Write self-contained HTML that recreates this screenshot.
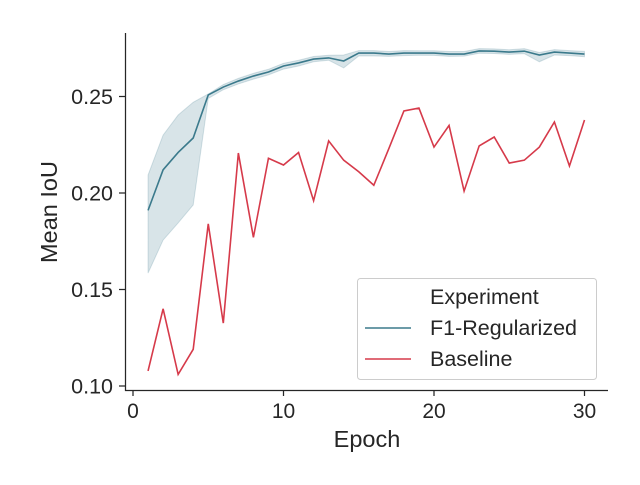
<!DOCTYPE html>
<html><head><meta charset="utf-8"><style>
body{margin:0;background:#fff}
svg text{font-family:"Liberation Sans","DejaVu Sans",sans-serif;fill:#262626}
</style></head><body>
<svg id="chart" width="640" height="480" xmlns="http://www.w3.org/2000/svg"></svg>
<script>
const epochs=[1,2,3,4,5,6,7,8,9,10,11,12,13,14,15,16,17,18,19,20,21,22,23,24,25,26,27,28,29,30];
const f1Mean=[0.191,0.212,0.221,0.2285,0.2508,0.2549,0.258,0.2606,0.2627,0.2658,0.2674,0.2694,0.270,0.2684,0.2725,0.2725,0.272,0.2725,0.2725,0.2725,0.272,0.272,0.2736,0.2735,0.273,0.2735,0.2715,0.273,0.2725,0.272];
const f1Lower=[0.1585,0.1756,0.1845,0.1938,0.249,0.2535,0.2565,0.259,0.2612,0.2642,0.2658,0.268,0.2688,0.2648,0.271,0.271,0.2708,0.2712,0.2714,0.2713,0.2708,0.2709,0.2724,0.2723,0.2718,0.2722,0.268,0.2715,0.2712,0.2706];
const f1Upper=[0.2093,0.230,0.2404,0.247,0.2513,0.2562,0.2594,0.262,0.2641,0.2672,0.2688,0.2707,0.2714,0.2715,0.2738,0.2738,0.2733,0.2738,0.2737,0.2737,0.2733,0.2733,0.2748,0.2747,0.2742,0.2748,0.2728,0.2743,0.2738,0.2734];
const baseline=[0.1078,0.140,0.106,0.119,0.184,0.1326,0.2207,0.177,0.218,0.2145,0.221,0.196,0.227,0.217,0.211,0.204,0.223,0.2425,0.244,0.2238,0.235,0.201,0.2244,0.229,0.2155,0.217,0.2238,0.2368,0.214,0.2378];
const xTicks=[0,10,20,30];
const yTicks=[0.10,0.15,0.20,0.25];
const yTickLabels=["0.10","0.15","0.20","0.25"];

const svg=document.getElementById('chart');
const NS='http://www.w3.org/2000/svg';
const X=v=>133+(v-0)*15.05;
const Y=v=>386-(v-0.10)*1930;
function mk(t,a,p){const e=document.createElementNS(NS,t);for(const k in a)e.setAttribute(k,a[k]);(p||svg).appendChild(e);return e;}

let d='M'+epochs.map((e,i)=>X(e)+','+Y(f1Upper[i])).join('L');
d+='L'+epochs.slice().reverse().map((e,j)=>{const i=epochs.length-1-j;return X(e)+','+Y(f1Lower[i]);}).join('L')+'Z';
const band=mk('path',{d:d,fill:'#3b7a8c','fill-opacity':0.2,stroke:'#3b7a8c','stroke-opacity':0.2});


const l1=mk('path',{d:'M'+epochs.map((e,i)=>X(e)+','+Y(f1Mean[i])).join('L'),fill:'none',stroke:'#3b7a8c','stroke-width':1.6});


const l2=mk('path',{d:'M'+epochs.map((e,i)=>X(e)+','+Y(baseline[i])).join('L'),fill:'none',stroke:'#d63a4a','stroke-width':1.6});



const ax=mk('path',{d:'M125.5,33V390.5H608',fill:'none',stroke:'#262626','stroke-width':1.25});


xTicks.forEach(t=>{
  const tk=mk('line',{x1:X(t),x2:X(t),y1:390,y2:396,stroke:'#262626','stroke-width':1.25});
  
  
  const tx=mk('text',{x:X(t),y:418,'text-anchor':'middle','font-size':21});
  
  
  tx.textContent=t;
});
yTicks.forEach((t,i)=>{
  const tk=mk('line',{x1:119,x2:125,y1:Y(t),y2:Y(t),stroke:'#262626','stroke-width':1.25});
  
  
  const tx=mk('text',{x:113,y:Y(t)+7.5,'text-anchor':'end','font-size':21.5});
  
  
  tx.textContent=yTickLabels[i];
});
const xt=mk('text',{x:367,y:447,'text-anchor':'middle','font-size':23.5});


xt.textContent='Epoch';
const yt=mk('text',{x:57,y:212,'text-anchor':'middle','font-size':23.5,transform:'rotate(-90 57 212)'});


yt.textContent='Mean IoU';

const lg=mk('g',{});


mk('rect',{x:357.5,y:278.5,width:239,height:101,rx:3,fill:'#fff','fill-opacity':0.8,stroke:'#ccc'},lg);
const lt=mk('text',{x:430,y:304,'font-size':21.5},lg);lt.textContent='Experiment';


[['F1-Regularized','#3b7a8c',335],['Baseline','#d63a4a',366]].forEach(([n,c,yy])=>{
  const g=mk('g',{},lg);
  
  
  mk('line',{x1:365,x2:411,y1:yy-7,y2:yy-7,stroke:c,'stroke-width':1.6},g);
  const t=mk('text',{x:430,y:yy,'font-size':21.5},g);t.textContent=n;
});
</script>
</body></html>
